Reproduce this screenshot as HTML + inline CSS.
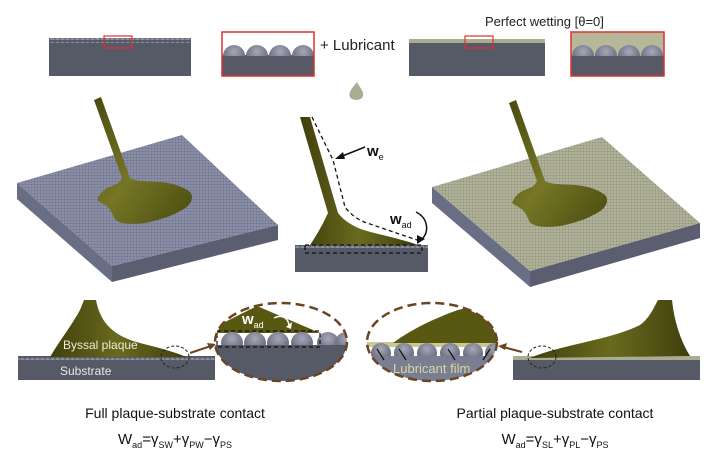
<!DOCTYPE html>
<html><head><meta charset="utf-8"><style>
html,body{margin:0;padding:0;background:#fff;}
svg{display:block;font-family:"Liberation Sans",sans-serif;}
</style></head><body>
<svg width="711" height="465" viewBox="0 0 711 465" xmlns="http://www.w3.org/2000/svg">
<defs>
<pattern id="bump" width="5" height="4" patternUnits="userSpaceOnUse"><rect width="5" height="4" fill="#555a66"/><circle cx="2.5" cy="4" r="2.3" fill="#8a8d9c"/></pattern>
<pattern id="grid" width="3" height="3" patternUnits="userSpaceOnUse"><rect width="3" height="3" fill="#8a8ea6"/><circle cx="1.5" cy="1.5" r="0.9" fill="#6c7088"/></pattern>
<pattern id="gridY" width="3" height="3" patternUnits="userSpaceOnUse"><rect width="3" height="3" fill="#b0b298"/><circle cx="1.5" cy="1.5" r="0.9" fill="#8e9080"/></pattern>
<radialGradient id="sph" cx="0.5" cy="0.3" r="0.7"><stop offset="0" stop-color="#a6a8b8"/><stop offset="1" stop-color="#5a5d70"/></radialGradient>
<linearGradient id="olive" x1="0" y1="0" x2="1" y2="0"><stop offset="0" stop-color="#3f3f0c"/><stop offset="0.5" stop-color="#6a6a1e"/><stop offset="1" stop-color="#3f3f0c"/></linearGradient>
<linearGradient id="olive2" x1="0" y1="0" x2="1" y2="1"><stop offset="0" stop-color="#4a4a10"/><stop offset="0.5" stop-color="#767626"/><stop offset="1" stop-color="#4a4a10"/></linearGradient>
</defs>

<rect x="49" y="42" width="142" height="34" fill="#555a66"/>
<rect x="49" y="38" width="142" height="5" fill="url(#bump)"/>
<rect x="104" y="36" width="28" height="12" fill="none" stroke="#e03030" stroke-width="1.2"/>

<rect x="222" y="55" width="92" height="21" fill="#555a66"/>
<g fill="url(#sph)"><circle cx="234" cy="56" r="11"/><circle cx="257" cy="56" r="11"/><circle cx="280" cy="56" r="11"/><circle cx="303" cy="56" r="11"/></g>
<rect x="222" y="56" width="92" height="20" fill="#555a66"/>
<rect x="222" y="32" width="92" height="44" fill="none" stroke="#e03030" stroke-width="1.5"/>

<text x="320" y="50" font-size="15" fill="#222">+ Lubricant</text>
<path d="M357 82 C352 88 348 93 350 97 C352 101 362 101 363 96 C364 91 360 88 357 82Z" fill="#a9ad94"/>

<text x="485" y="26" font-size="13" fill="#222">Perfect wetting [θ=0]</text>
<rect x="409" y="42" width="136" height="34" fill="#555a66"/>
<rect x="409" y="39" width="136" height="4" fill="#a9ad90"/>
<rect x="465" y="36" width="28" height="12" fill="none" stroke="#e03030" stroke-width="1.2"/>

<rect x="571" y="32" width="93" height="44" fill="#b6b89a"/>
<g fill="url(#sph)"><circle cx="583" cy="56" r="11"/><circle cx="606" cy="56" r="11"/><circle cx="629" cy="56" r="11"/><circle cx="652" cy="56" r="11"/></g>
<rect x="571" y="56" width="93" height="20" fill="#555a66"/>
<rect x="571" y="32" width="93" height="44" fill="none" stroke="#e03030" stroke-width="1.5"/>

<polygon points="17,183 17,199 112,282 112,266" fill="#6a6e84"/>
<polygon points="112,266 112,282 278,240 278,225" fill="#5a5e70"/>
<polygon points="17,183 182,135 278,225 112,266" fill="url(#grid)"/>
<g id="plq">
<path d="M97 200 C100 192 106 188 112 186 C118 184 120 182 122 178 L94 100 L101 97 L130 178 C136 182 150 181 160 182 C172 183 182 186 190 192 C195 198 190 206 182 210 C172 216 160 220 145 223 C130 225 118 224 114 218 C112 212 108 206 103 204 Z" fill="url(#olive2)"/>
</g>

<polygon points="432,187 432,203 530,287 530,271" fill="#6a6e84"/>
<polygon points="530,271 530,287 700,238 700,223" fill="#5a5e70"/>
<polygon points="432,187 602,137 700,223 530,271" fill="url(#gridY)"/>
<use href="#plq" transform="translate(415,3)"/>

<rect x="295" y="248" width="133" height="24" fill="#555a66"/>
<rect x="295" y="245" width="133" height="4" fill="url(#bump)"/>
<path d="M300 117 L310 117 L338 213 C345 222 356 228 367 231 C385 236 405 240 418 245 L310 245 C316 236 322 226 328 213 Z" fill="url(#olive)"/>
<path d="M312 117 L333 160 L345 207 C350 214 358 220 367 223 L417 240" fill="none" stroke="#111" stroke-width="1.3" stroke-dasharray="4,3"/>
<rect x="305" y="245" width="117" height="8" fill="none" stroke="#111" stroke-width="1.3" stroke-dasharray="4,3"/>
<path d="M365 147 L340 157" stroke="#111" stroke-width="1.5"/><polygon points="335,159 343,152 345,159" fill="#111"/>
<text x="367" y="156" font-size="15" font-weight="bold" fill="#111">w<tspan font-size="9" font-weight="normal" dy="4">e</tspan></text>
<text x="390" y="224" font-size="15" font-weight="bold" fill="#111">w<tspan font-size="9" font-weight="normal" dy="4">ad</tspan></text>
<path d="M416 212 C428 218 430 232 421 240" fill="none" stroke="#111" stroke-width="1.5"/><polygon points="417,244 417,235 425,239" fill="#111"/>

<rect x="18" y="360" width="197" height="20" fill="#555a66"/>
<rect x="18" y="356" width="197" height="4" fill="url(#bump)"/>
<path d="M50 357 C60 340 72 325 80 310 L84 300 L96 300 C100 320 110 335 140 343 C160 348 175 352 186 357 Z" fill="url(#olive)"/>
<text x="63" y="349" font-size="12" fill="#ecebd6">Byssal plaque</text>
<text x="60" y="375" font-size="12" fill="#e8e8e8">Substrate</text>
<ellipse cx="175" cy="357" rx="14" ry="11" fill="none" stroke="#222" stroke-dasharray="3,2"/>
<line x1="190" y1="353" x2="211" y2="346" stroke="#6b4422" stroke-width="2"/>
<polygon points="216,344 207,343 210,350" fill="#6b4422"/>

<clipPath id="c1"><ellipse cx="281" cy="342" rx="66" ry="39"/></clipPath>
<g clip-path="url(#c1)">
<rect x="213" y="300" width="137" height="85" fill="#fff"/>
<path d="M213 333 L213 328 L257 306 L320 333Z" fill="#585812"/>
<g fill="url(#sph)"><circle cx="232" cy="343" r="11"/><circle cx="255" cy="343" r="11"/><circle cx="278" cy="343" r="11"/><circle cx="302" cy="343" r="11"/><circle cx="328" cy="343" r="11"/><circle cx="346" cy="343" r="11"/></g>
<rect x="213" y="345" width="137" height="40" fill="#555a66"/>
</g>
<rect x="217" y="331" width="103" height="16" fill="none" stroke="#111" stroke-dasharray="4,3" stroke-width="1.2"/>
<ellipse cx="281" cy="342" rx="66" ry="39" fill="none" stroke="#6b4422" stroke-width="2.5" stroke-dasharray="9,5"/>
<text x="242" y="324" font-size="15" font-weight="bold" fill="#fff">w<tspan font-size="9" font-weight="normal" dy="4">ad</tspan></text>
<path d="M274 318 C282 314 288 318 289 325" fill="none" stroke="#fff" stroke-width="1.5"/><polygon points="286,327 292,322 291,329" fill="#fff"/>

<clipPath id="c2"><ellipse cx="432" cy="342" rx="65" ry="39"/></clipPath>
<g clip-path="url(#c2)">
<rect x="366" y="300" width="134" height="85" fill="#fff"/>
<rect x="366" y="342" width="134" height="5" fill="#c8c890"/>
<path d="M393 343 C410 330 435 318 458 310 L500 300 L500 343Z" fill="#585812"/>
<g fill="url(#sph)"><circle cx="381" cy="353" r="10"/><circle cx="404" cy="353" r="10"/><circle cx="427" cy="353" r="10"/><circle cx="450" cy="353" r="10"/><circle cx="473" cy="353" r="10"/><circle cx="495" cy="353" r="10"/></g>
<rect x="366" y="356" width="134" height="30" fill="#7a7e92"/>
</g>
<ellipse cx="432" cy="342" rx="65" ry="39" fill="none" stroke="#6b4422" stroke-width="2.5" stroke-dasharray="9,5"/>
<text x="393" y="373" font-size="13" fill="#d8d8a0">Lubricant film</text>
<g stroke="#111" stroke-width="1.2"><line x1="384" y1="360" x2="377" y2="349"/><line x1="406" y1="360" x2="399" y2="349"/><line x1="455" y1="360" x2="448" y2="349"/><line x1="483" y1="360" x2="490" y2="349"/></g>
<line x1="503" y1="347" x2="522" y2="352" stroke="#6b4422" stroke-width="2"/>
<polygon points="498,346 507,343 505,350" fill="#6b4422"/>

<rect x="513" y="360" width="187" height="20" fill="#555a66"/>
<rect x="513" y="356" width="187" height="4" fill="#a9ad90"/>
<path d="M530 358 C560 345 610 340 640 325 C650 318 655 305 658 300 L672 300 C674 320 680 340 690 356 Z" fill="url(#olive)"/>
<ellipse cx="542" cy="357" rx="14" ry="11" fill="none" stroke="#222" stroke-dasharray="3,2"/>

<text x="175" y="418" font-size="14" fill="#111" text-anchor="middle">Full plaque-substrate contact</text>
<text x="175" y="444" font-size="15" fill="#111" text-anchor="middle">W<tspan font-size="9" dy="4">ad</tspan><tspan dy="-4">=γ</tspan><tspan font-size="9" dy="4">SW</tspan><tspan dy="-4">+γ</tspan><tspan font-size="9" dy="4">PW</tspan><tspan dy="-4">−γ</tspan><tspan font-size="9" dy="4">PS</tspan></text>
<text x="555" y="418" font-size="14" fill="#111" text-anchor="middle">Partial plaque-substrate contact</text>
<text x="555" y="444" font-size="15" fill="#111" text-anchor="middle">W<tspan font-size="9" dy="4">ad</tspan><tspan dy="-4">=γ</tspan><tspan font-size="9" dy="4">SL</tspan><tspan dy="-4">+γ</tspan><tspan font-size="9" dy="4">PL</tspan><tspan dy="-4">−γ</tspan><tspan font-size="9" dy="4">PS</tspan></text>
</svg>
</body></html>
